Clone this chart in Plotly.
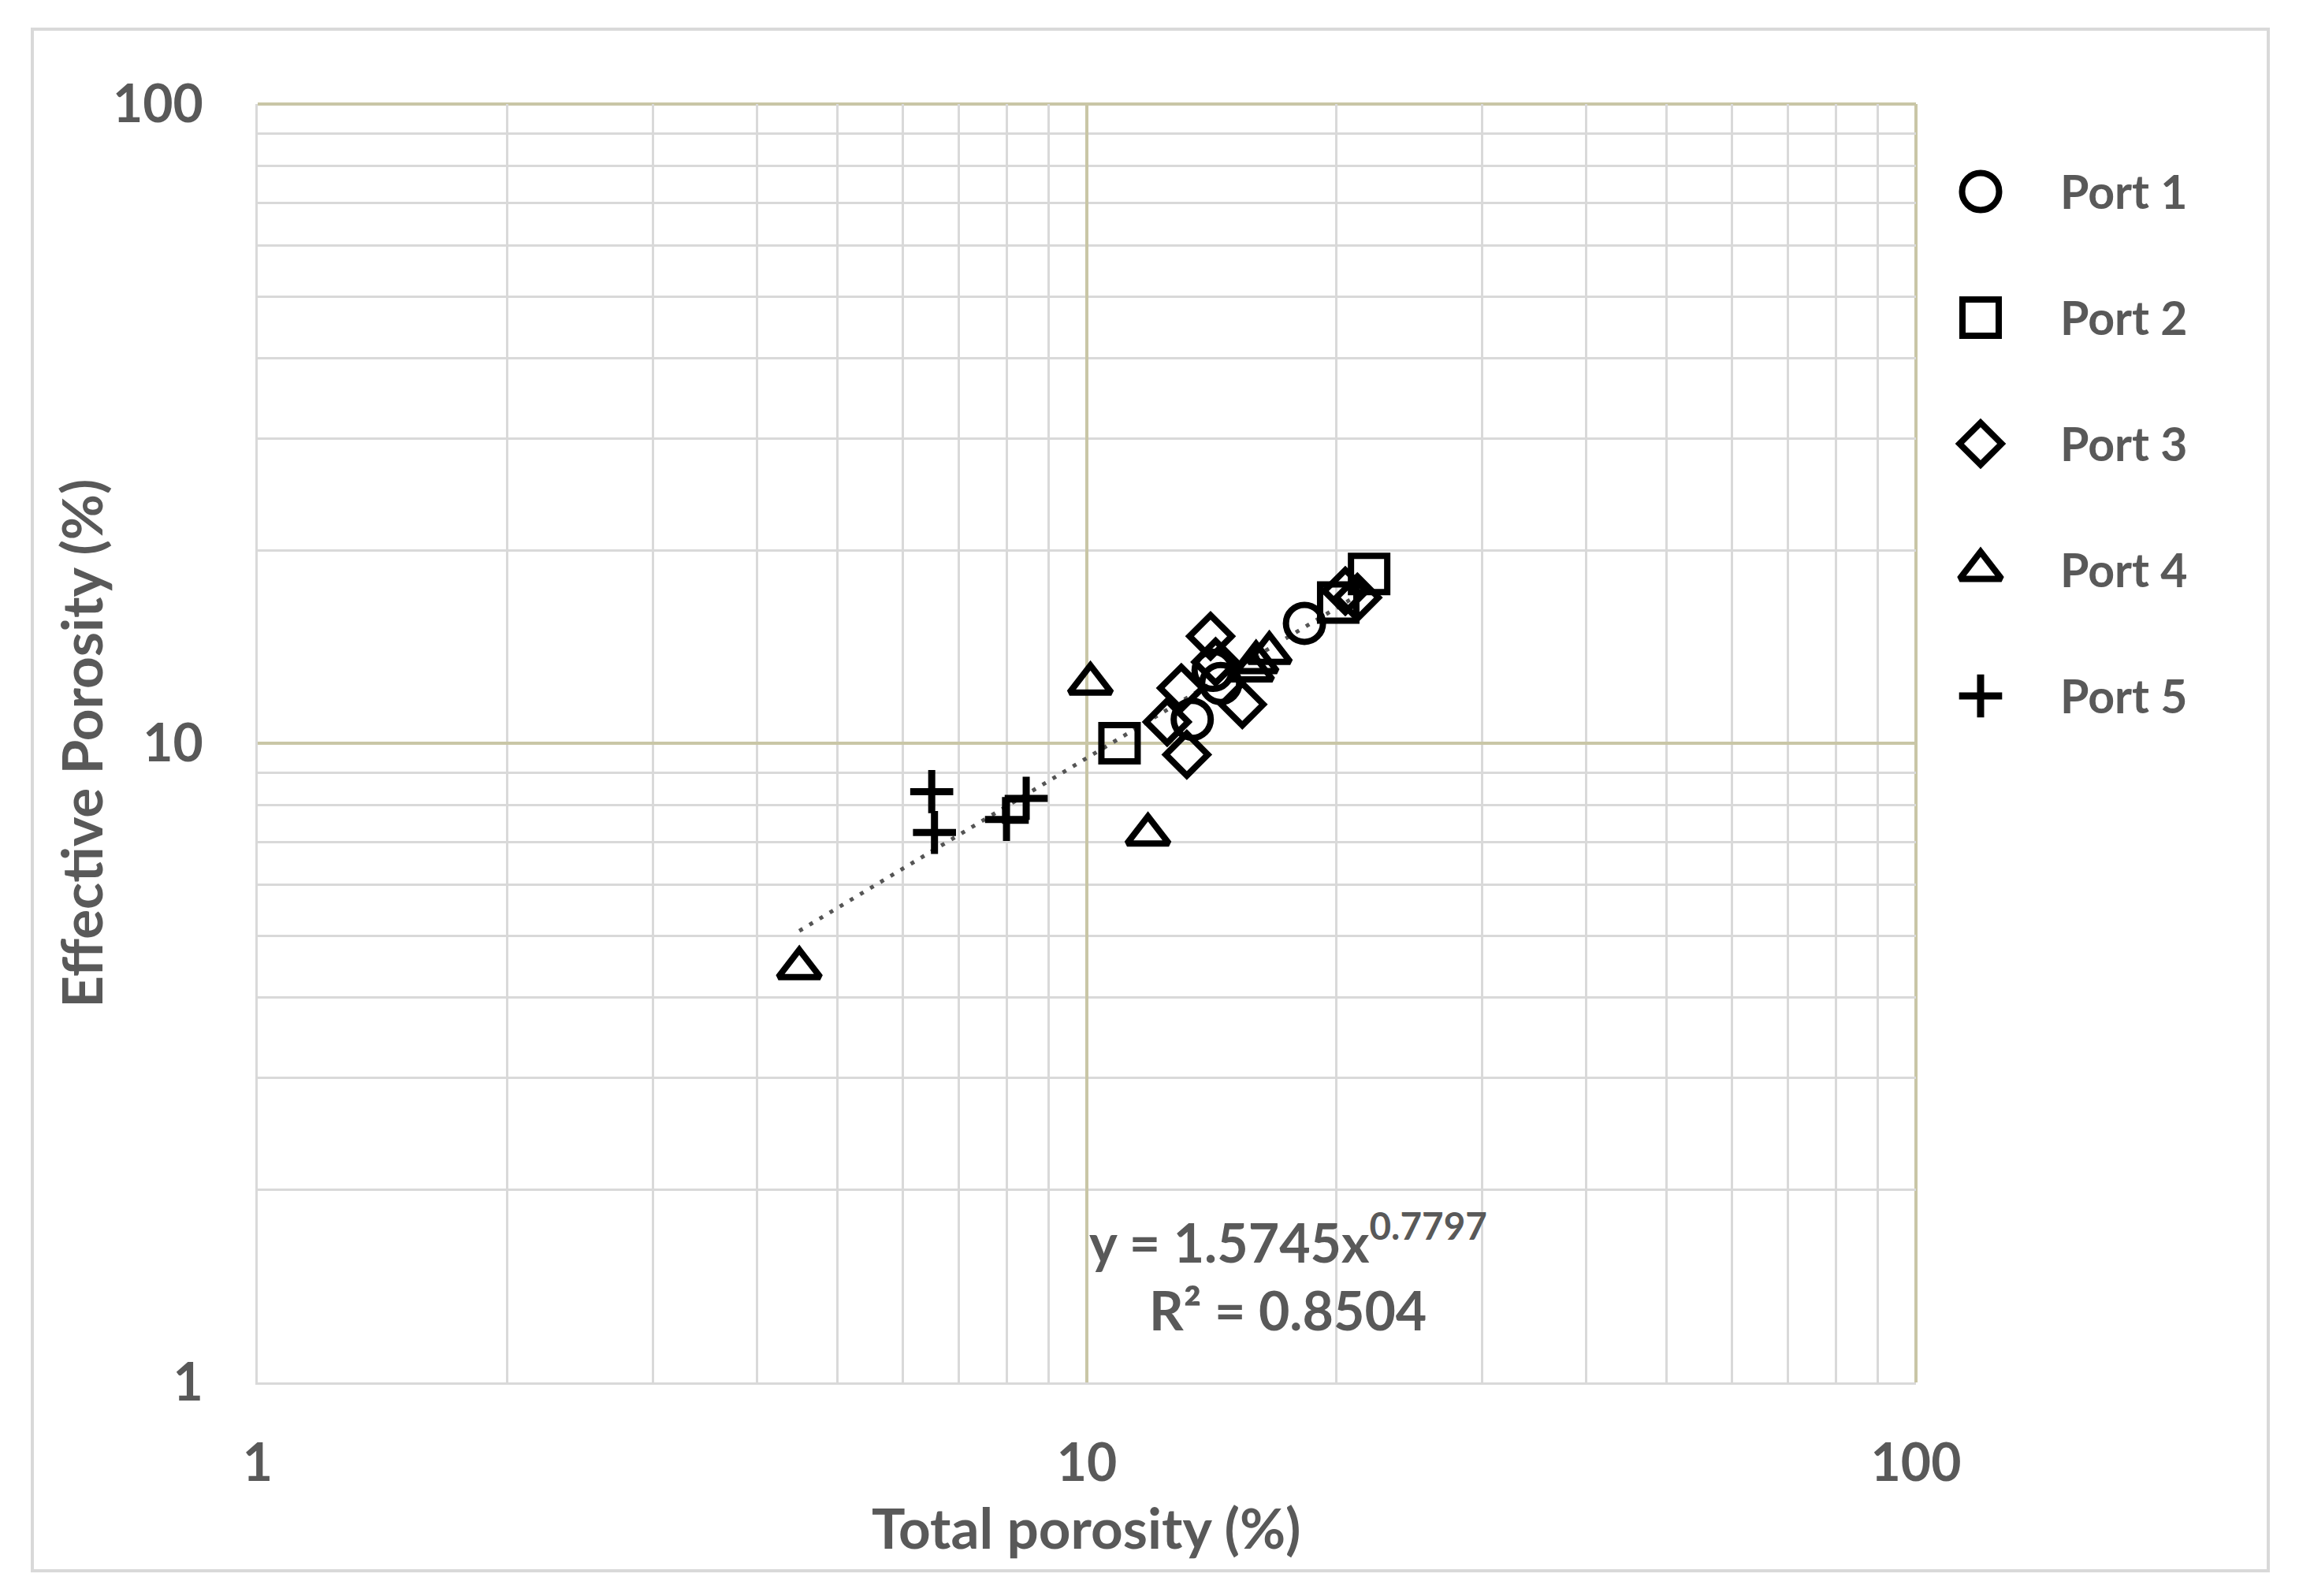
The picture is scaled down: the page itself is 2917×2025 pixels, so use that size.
import plotly.graph_objects as go

# total porosity (x) vs effective porosity (y), both in %
port1_x = [13.4, 14.2, 14.5, 18.3]
port1_y = [10.9, 13.0, 12.4, 15.4]

port2_x = [10.95, 20.1, 21.9]
port2_y = [10.0, 16.6, 18.4]
port2_small_x = [8.2]
port2_small_y = [7.85]

port3_x = [12.5, 13.0, 13.2, 14.1, 14.3, 15.4, 20.5, 21.2]
port3_y = [10.8, 12.2, 9.6, 14.7, 13.4, 11.5, 17.3, 16.9]

port4_x = [4.5, 10.1, 11.85, 15.8, 16.0, 16.6]
port4_y = [4.45, 12.4, 7.2, 13.0, 13.4, 13.85]

port5_x = [6.5, 6.55, 8.0, 8.45]
port5_y = [8.4, 7.25, 7.6, 8.2]

# power trendline shown on the chart
fit_a = 1.5745
fit_b = 0.7797
r_squared = 0.8504
trend_x = [4.5, 21.9]
trend_y = [fit_a * x ** fit_b for x in trend_x]

axis_ticks = [1, 10, 100]
minor_ticks = [m * 10 ** d for d in (0, 1) for m in range(2, 10)]

TEXT = "#595959"
MINOR = "#d9d9d9"
MAJOR = "#c9c6a6"
FONT = "Lato"

series = [
    ("Port 1", port1_x, port1_y, "circle-open", 47, 8),
    ("Port 2", port2_x, port2_y, "square-open", 46, 8),
    ("Port 3", port3_x, port3_y, "diamond-open", 41, 8),
    ("Port 4", port4_x, port4_y, "triangle-up-open", 46, 8),
    ("Port 5", port5_x, port5_y, "cross-thin-open", 39, 9),
]

fig = go.Figure()

fig.add_trace(go.Scatter(x=trend_x, y=trend_y, mode="lines", showlegend=False,
                         line=dict(color="#555555", width=5, dash="5px,10px")))

fig.add_trace(go.Scatter(x=port2_small_x, y=port2_small_y, mode="markers", showlegend=False,
                         marker=dict(symbol="square-open", size=27, color="black",
                                     line=dict(color="black", width=7))))

for name, xs, ys, symbol, size, lw in series:
    fig.add_trace(go.Scatter(x=xs, y=ys, mode="markers", name=name, showlegend=False,
                             marker=dict(symbol=symbol, size=size, color="black",
                                         line=dict(color="black", width=lw))))

# legend drawn by hand so the keys keep the full marker size
annotations = []
for i, (name, xs, ys, symbol, size, lw) in enumerate(series):
    fig.add_trace(go.Scatter(x=[0], y=[i], xaxis="x2", yaxis="y2", mode="markers",
                             showlegend=False, hoverinfo="skip",
                             marker=dict(symbol=symbol, size=size, color="black",
                                         line=dict(color="black", width=lw))))
    annotations.append(dict(xref="paper", yref="y2", x=0.9032, y=i, xanchor="left",
                            yanchor="middle", text=name, showarrow=False,
                            font=dict(family=FONT, size=59, color=TEXT, weight="bold")))

annotations.append(dict(xref="x domain", yref="y domain", x=0.5, y=-0.1134,
                        xanchor="center", yanchor="middle", text="Total porosity (%)",
                        showarrow=False,
                        font=dict(family=FONT, size=71, color=TEXT, weight="bold")))
annotations.append(dict(xref="x domain", yref="y domain", x=-0.107, y=0.5,
                        xanchor="center", yanchor="middle", textangle=-90,
                        text="Effective Porosity (%)", showarrow=False,
                        font=dict(family=FONT, size=71, color=TEXT, weight="bold")))
annotations.append(dict(xref="x domain", yref="y domain", x=0.6212, y=0.1128,
                        xanchor="center", yanchor="middle",
                        text=f"y = {fit_a}x<sup>{fit_b}</sup>", showarrow=False,
                        font=dict(family=FONT, size=68, color=TEXT, weight="bold")))
annotations.append(dict(xref="x domain", yref="y domain", x=0.6212, y=0.0573,
                        xanchor="center", yanchor="middle",
                        text=f"R² = {r_squared}", showarrow=False,
                        font=dict(family=FONT, size=68, color=TEXT, weight="bold")))

axis_common = dict(
    type="log", range=[0, 2], automargin=False,
    tickvals=axis_ticks, ticktext=[str(t) for t in axis_ticks],
    showgrid=True, gridcolor=MAJOR, gridwidth=4,
    minor=dict(tickvals=minor_ticks, showgrid=True, gridcolor=MINOR, gridwidth=3, ticks=""),
    showline=True, linecolor=MINOR, linewidth=3,
    ticks="", zeroline=False,
    tickfont=dict(family=FONT, size=66, color=TEXT, weight="bold"),
)

shapes = [
    dict(type="rect", xref="paper", yref="paper", x0=-0.11304, x1=1.0083,
         y0=-0.14735, y1=1.05857, line=dict(color=MINOR, width=4), layer="below"),
    dict(type="line", xref="x domain", yref="y domain", x0=0, x1=1, y0=1, y1=1,
         line=dict(color=MAJOR, width=4), layer="below"),
    dict(type="line", xref="x domain", yref="y domain", x0=1, x1=1, y0=0, y1=1,
         line=dict(color=MAJOR, width=4), layer="below"),
]

fig.update_layout(
    width=2895, height=2000, autosize=False,
    margin=dict(l=319, r=46, t=124, b=254, pad=0),
    paper_bgcolor="white", plot_bgcolor="white",
    showlegend=False,
    xaxis=dict(domain=[0, 0.83162], ticklabelstandoff=43, **axis_common),
    yaxis=dict(domain=[0, 1], ticklabelstandoff=53, **axis_common),
    xaxis2=dict(domain=[0.84427, 0.88379], range=[-1, 1], visible=False, anchor="y2"),
    yaxis2=dict(domain=[0.48767, 0.98089], range=[4.5, -0.5], visible=False, anchor="x2"),
    annotations=annotations,
    shapes=shapes,
)

fig.write_html("out.html")
